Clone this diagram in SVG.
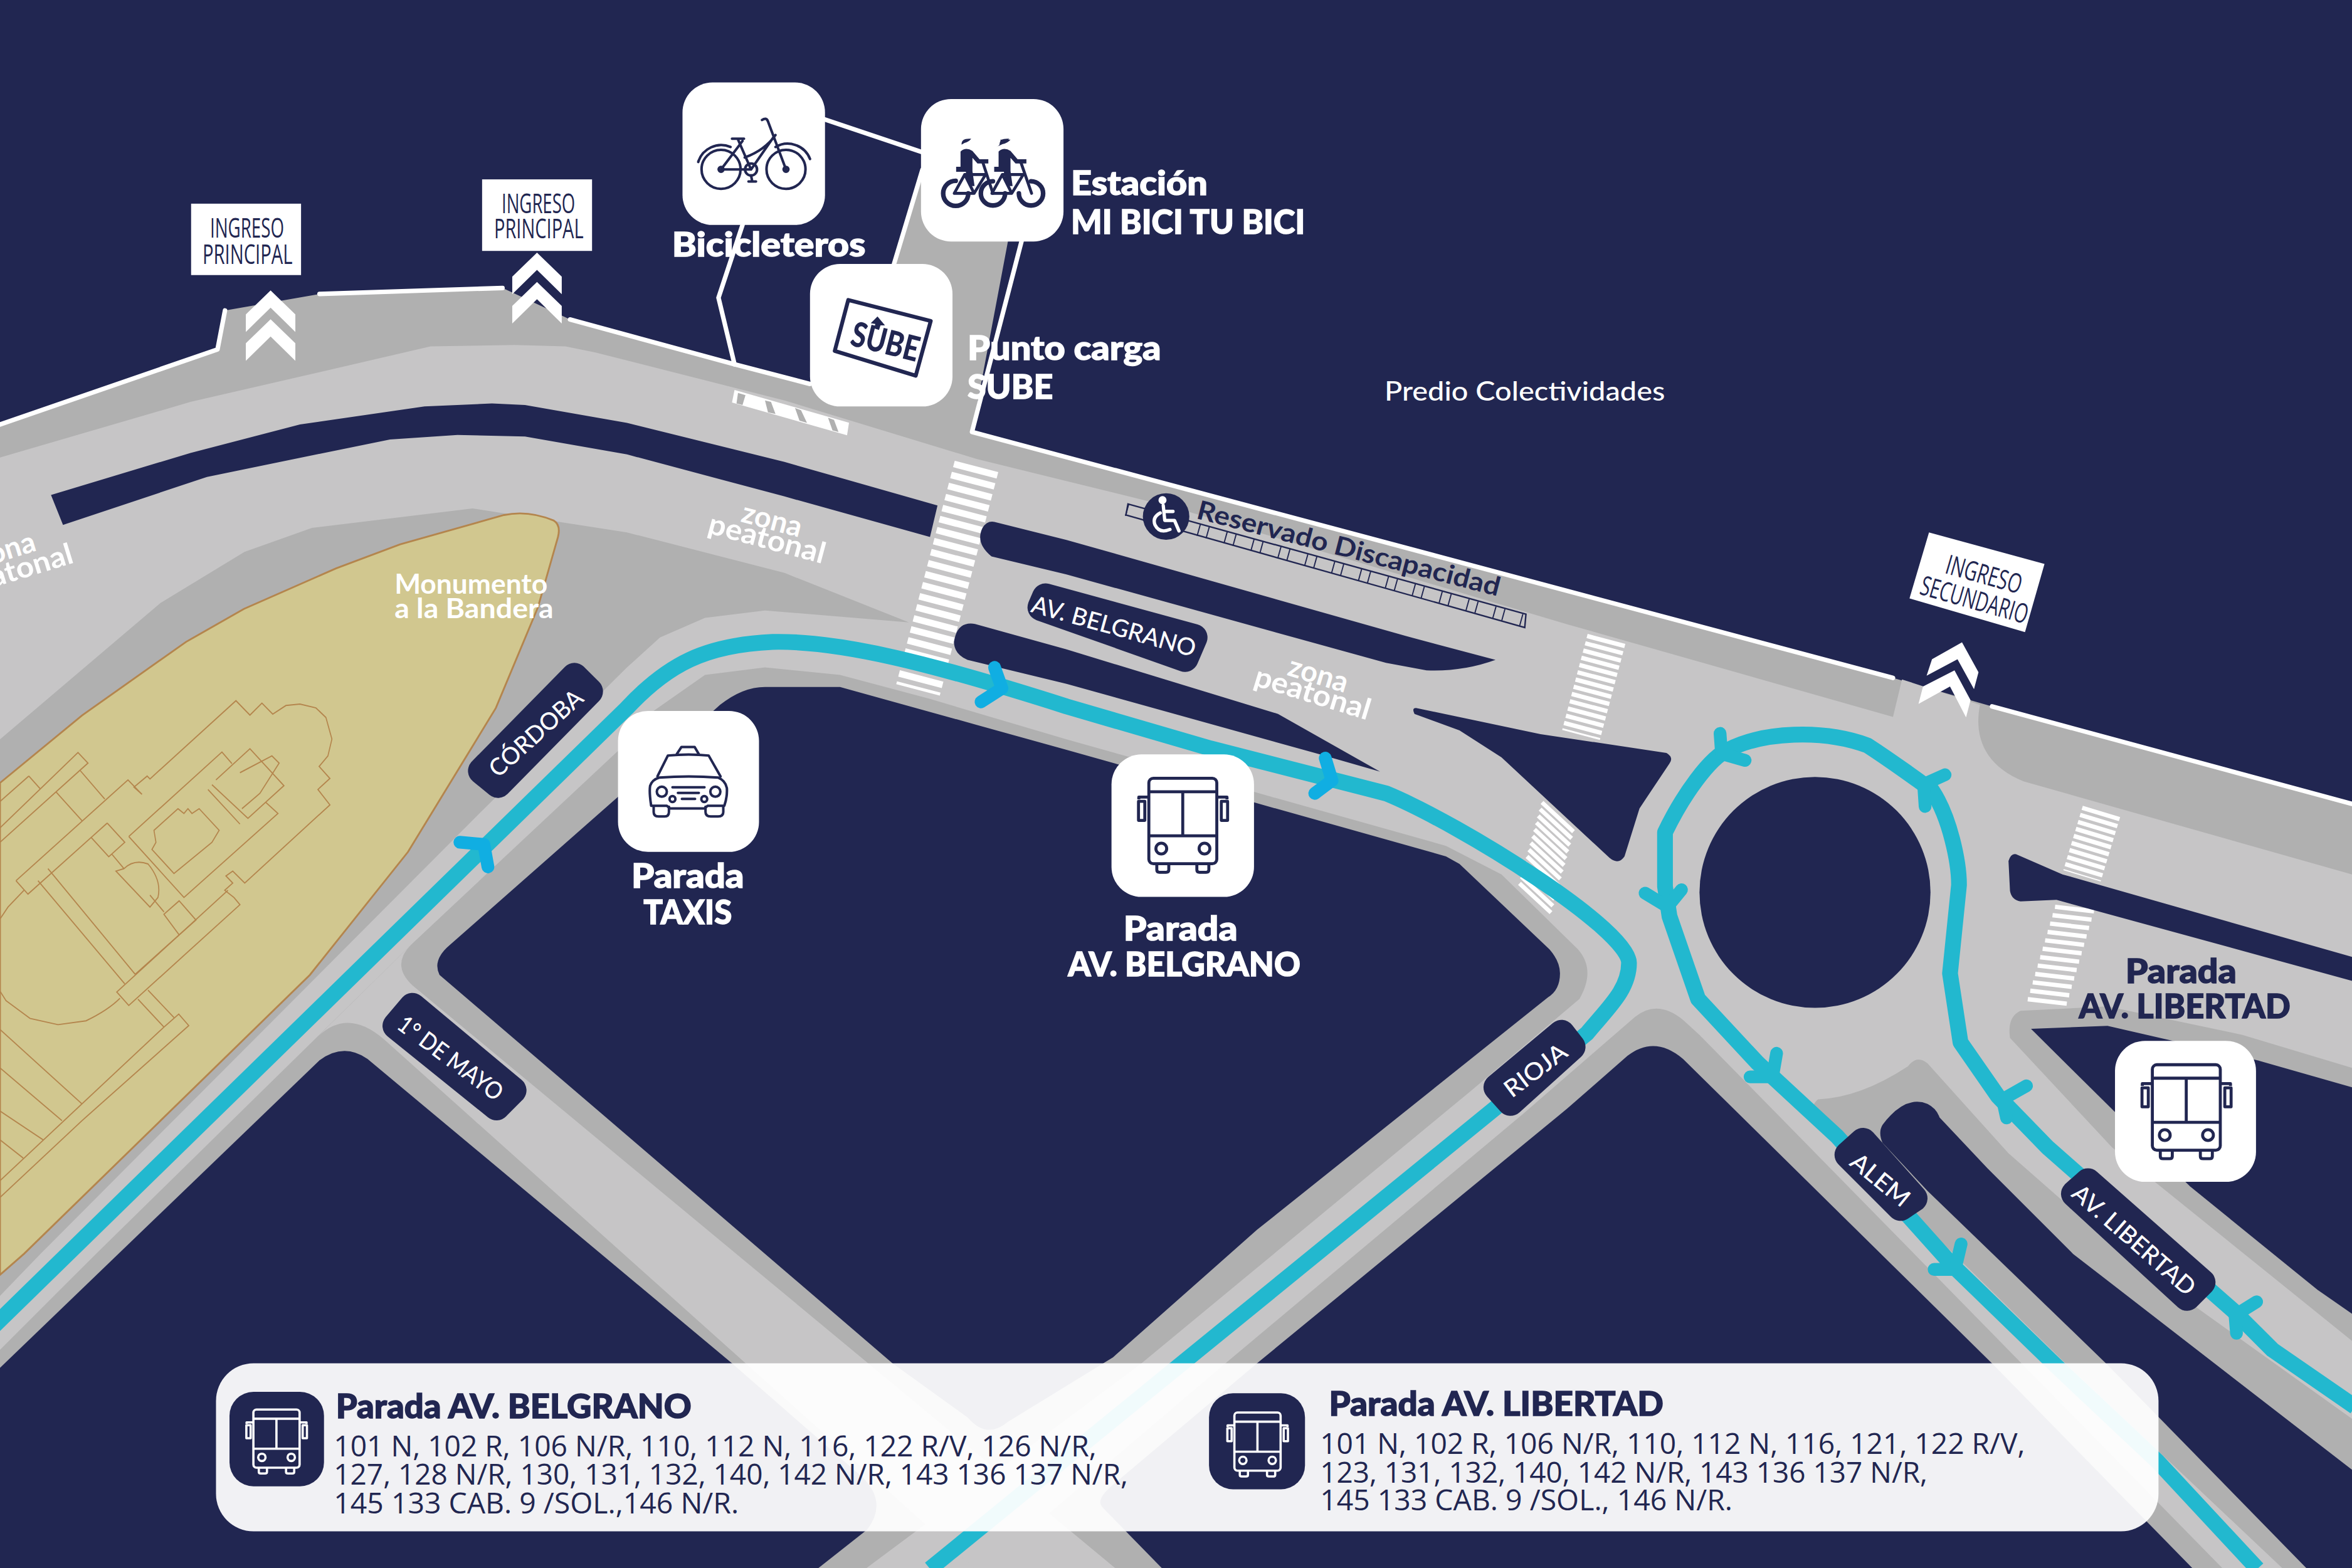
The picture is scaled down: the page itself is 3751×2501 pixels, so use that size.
<svg xmlns="http://www.w3.org/2000/svg" xmlns:xlink="http://www.w3.org/1999/xlink" width="3751" height="2501" viewBox="0 0 3751 2501">
<style>
.nv{fill:#212651}.dk{fill:#b0b0b0}.lt{fill:#c6c5c6}
.box{fill:#fff}
.wl{fill:none;stroke:#fff;stroke-width:3;stroke-linecap:round;stroke-linejoin:round}
.cw{fill:#fff}
.lbl{fill:#212651;stroke:#212651;stroke-width:18;stroke-linejoin:round}
.rt{font-family:"Lato","Open Sans",sans-serif;font-size:16px;font-weight:500;fill:#fff;text-anchor:middle}
.h{font-family:"Lato","Open Sans",sans-serif;font-weight:900;font-size:22px;fill:#fff;stroke:#fff;stroke-width:.6}
.hn{fill:#212651;stroke:#212651}
.p{font-family:"Lato","Open Sans",sans-serif;font-weight:700;font-size:18px;fill:#fff}
.z{font-family:"Lato","Open Sans",sans-serif;font-weight:700;font-size:19.5px;fill:#fff;text-anchor:middle}
.ing{font-family:"Open Sans","Noto Sans",sans-serif;font-size:18px;font-weight:500;fill:#212651}
.row{font-family:"Open Sans","Noto Sans",sans-serif;font-size:19px;font-weight:500;fill:#212651}
.route{fill:none;stroke:#22b8cf;stroke-width:10.5;stroke-linejoin:round}
.arr{fill:none;stroke:#22b8cf;stroke-width:8.5;stroke-linecap:round;stroke-linejoin:round}
.arb{fill:none;stroke:#10aee2;stroke-width:8.5;stroke-linecap:round;stroke-linejoin:round}
.xw{fill:none;stroke:#fff}
.mon{fill:#d1c78f;stroke:#b4854d;stroke-width:1.2}
.bl{fill:none;stroke:#b4854d;stroke-width:2.6}
.ic{fill:none;stroke:#212651;stroke-width:1.7;stroke-linecap:round;stroke-linejoin:round}
.ic2{fill:none;stroke:#212651;stroke-width:12;stroke-linecap:round;stroke-linejoin:round}
</style>
<defs>
<g id="bus" fill="none" stroke-linejoin="round">
<rect x="24.9" y="15.9" width="45.3" height="57" rx="3"/>
<path d="M24.9 24.9H70.2M24.9 54.3H70.2M47.5 24.9V54.3M18.2 30V28.5H24.9M77 30V28.5H70.2"/>
<rect x="18" y="31.3" width="4.2" height="12.7"/><rect x="73.2" y="31.3" width="4.2" height="12.7"/>
<ellipse cx="33.2" cy="62.8" rx="3.6" ry="3.6"/><ellipse cx="62" cy="62.8" rx="3.6" ry="3.6"/>
<path d="M30.2 73V77Q30.2 78.6 32 78.6H36.4Q38.2 78.6 38.2 77V73M56.9 73V77Q56.9 78.6 58.7 78.6H63.1Q64.9 78.6 64.9 77V73"/>
</g>
<g id="rider" fill="#212651" stroke="none">
<path d="M245 185Q270 162 302 182L336 222H378V242H326L302 215V278L312 350H285L270 282H224V258H245Z"/>
<path d="M250 152Q248 120 296 124Q284 140 264 144Z"/>
</g>
<path id="chev" d="M0 0L16.5 16V27.7L0 11.5L-16.5 27.7V16Z"/>
</defs>
<rect width="3751" height="2501" fill="#212651"/>
<g transform="scale(2.39222)">
<g id="roads">
<path class="dk" d="M0 283L145 233L150 207L213 196L335 192L380 213L490 243L540 256L596 176L615 113H681L648 288L1262 452L1328 471L1568 536V1046H0Z"/>
<path class="lt" d="M0 305L127 268L287 231L343 230L377 231L397 235L523 267L651 306L785 339L1044 416L1262 478L1268 453L1320 470C1316 490 1322 510 1349 521L1568 583V712L1495 690L1405 671L1347 674Q1338 678 1340 692L1408 765L1568 894V946L1420 840L1339 769L1285 709Q1278 703 1272 711Q1240 732 1212 733Q1206 738 1210 745L1219 753L1278 812L1378 910L1522 1046H1482L1133 690L1122 680Q1105 666 1090 678L1015 743L817 909L656 1046H577L761 909L981 727L1053 666C1062 650 1058 640 1052 633L1001 583L964 564L836 528L711 493L620 466L560 450L510 445L470 450L430 478L418 495L275 629L64 836L0 900V864L27 836L320 542L418 445L440 425L470 412L510 407L606 415L523 382L418 355L315 339L208 352L163 368L107 402L0 493Z"/>
<path class="lt" d="M275 629Q260 643 275 657L744 1046H650L256 693Q232 672 212 691Z"/>
</g>
<g id="crossings">
<path class="xw" stroke-width="30" stroke-dasharray="4.4 3.2" d="M651 311L612 460"/>
<path class="xw" stroke-width="26" stroke-dasharray="2.9 2.1" d="M1071 426L1054 490"/>
<path class="xw" stroke-width="2.8" d="M1028 535l21 19.5m-22.25 -15l21 19.5m-22.25 -15l21 19.5m-22.25 -15l21 19.5m-22.25 -15l21 19.5m-22.25 -15l21 19.5m-22.25 -15l21 19.5m-22.25 -15l21 19.5m-22.25 -15l21 19.5m-22.25 -15l21 19.5m-22.25 -15l21 19.5m-22.25 -15l21 19.5m-22.25 -15l21 19.5"/>
<path class="xw" stroke-width="26" stroke-dasharray="2.9 2" d="M1401 541L1388 584"/>
<path class="xw" stroke-width="2.9" d="M1370 604.6l26 3m-27.65 2.6l26 3m-27.65 2.6l26 3m-27.65 2.6l26 3m-27.65 2.6l26 3m-27.65 2.6l26 3m-27.65 2.6l26 3m-27.65 2.6l26 3m-27.65 2.6l26 3m-27.65 2.6l26 3m-27.65 2.6l26 3m-27.65 2.6l26 3"/>
</g>
<g id="islands">
<path class="nv" d="M34 330L127 302L200 283L283 271L328 269L350 270L418 282L523 308L625 337L620 358L523 331L418 303L350 291L305 290L260 293L138 318L42 350Z"/>
<path class="nv" d="M663 348L711 360L937 424L997 440Q975 448 951 447L924 442L711 383L661 371Q650 362 655 352Q658 347 663 348Z"/>
<path class="nv" d="M650 416L711 433L852 476L920 514.5L880 503L711 456L645 440Q636 436 636 428Q638 414 650 416Z"/>
<path class="nv" d="M944 472L1027 489.5L1111 502Q1116 505 1113 509L1093 539L1083 571Q1079 577 1073 572L1001 505L973 487L943 476Q941 472 944 472Z"/>
<path class="nv" d="M1345 570L1375 583L1568 638V654L1371 600L1347 601Q1341 600 1340 594L1339 574Q1341 568 1345 570Z"/>
<circle class="nv" cx="1210" cy="595" r="77"/>
<path id="block-left" class="nv" d="M0 912L213 707Q229 695 245 706L488 909L575 985Q592 1002 578 1020L545 1046H0Z"/>
<path id="block-center" class="nv" d="M293 650Q288 640 300 630L418 526L480 470Q495 458 510 458H560L650 483L711 500L836 535L964 571L973 576L1033 633Q1040 641 1040 649Q1040 660 1032 665L838 820L742 905L672 948Q658 960 645 945L595 909L418 757Z"/>
<path id="block-right" class="nv" d="M1085 704Q1103 690 1122 706L1329 910L1462 1046H775L735 1005Q730 1000 742 990L838 909L1045 739Z"/>
<path id="block-isle" class="nv" d="M1255 750Q1270 730 1285 736Q1291 739 1293 745L1325 779L1382 836L1568 980V1046H1538L1405 910L1285 794L1255 762Q1252 755 1255 750Z"/>
<path id="block-wedge" class="nv" d="M1354 686L1405 684L1505 707L1568 725V876L1545 860L1460 791Z"/>
</g>
<g id="monument">
<path class="mon" d="M0 522L54.7 477L124 428L162.6 406L224 379L266.6 363L336 343.4Q352 340 369 347Q374 350 372 358L358.6 405L330.6 472L272 568L206.6 650L16 836L0 850Z"/>
<g transform="translate(0,334.4) scale(.2666,.32)" class="bl">
<path d="M0 680L195 523L220 545L0 710M72 572L100 598M0 625L72 572M140 605L205 665M200 560L262 620M40 790L320 580L355 610L335 595L368 572L375 578L590 415L625 445L655 420L682 443L715 425L750 422L790 430L815 450L830 495L820 530L798 552L825 577L795 600L825 632L612 795L582 770L565 780L582 795L562 810L585 825L600 840L322 1050L292 1022L570 810"/>
<path d="M322 698L555 522L580 546M322 698L460 825L695 650L665 627M540 580L625 515L710 592L620 660L530 590M600 565L680 530L698 545L650 608L605 640M520 600L600 672M445 640L460 650L470 640L480 650L498 640L548 685L530 710L435 775L380 725L390 710L385 685Z"/>
<path d="M40 790L70 818L228 700M268 670L312 710L272 740L228 700L268 670M290 770L375 845L395 825Q405 790 370 755Q335 745 310 765ZM410 860L448 832L490 872L448 903ZM280 735L310 765M375 820L410 855M95 790L312 1005M120 765L338 985M448 903L338 985"/>
<path d="M370 1018L435 1075M345 1037L410 1095L447 1068L472 1092L205 1290L0 1450M410 1095L0 1415M300 1035Q270 1060 215 1082L145 1090L75 1077L15 1040L0 1020M60 810L20 845L0 870M0 1100L205 1255M0 1180L155 1290M0 1270L108 1330M0 1330L58 1368"/>
</g>
<text class="p" x="263" y="396" textLength="102" lengthAdjust="spacingAndGlyphs">Monumento</text>
<text class="p" x="263" y="412" textLength="106" lengthAdjust="spacingAndGlyphs">a la Bandera</text>
</g>
<g id="reservado">
<path fill="none" stroke="#212651" stroke-width="1" d="M752 336L1017.3 409.5L1016.5 418.4L750.6 343.4Z"/>
<path fill="none" stroke="#212651" stroke-width="8" stroke-dasharray="0.8 11.6 0.8 5.4" d="M751 340L1017 414"/>
<text transform="translate(797,345.5) rotate(14.5)" style="font-family:Lato,'Open Sans',sans-serif;font-weight:700;font-size:17.5px;fill:#212651" textLength="208" lengthAdjust="spacingAndGlyphs">Reservado Discapacidad</text>
<circle class="nv" cx="777.4" cy="344.4" r="15.5"/>
<g fill="none" stroke="#fff" stroke-width="2.2" stroke-linecap="round" stroke-linejoin="round">
<circle cx="775" cy="333.5" r="1.6" fill="#fff"/>
<path d="M775.5 337L776.5 347H783L786 354M776 341H782M773.5 342Q768 345 770 350Q773 356 780 353"/>
</g>
</g>
<g id="connectors">
<path class="route" d="M-5 885L418 472C445 443 470 430 515 428C560 427 620 442 711 471L807 499L924 529C975 550 1086 620 1086 642C1086 660 1072 672 1058 689L788 909L620 1046"/>
<path class="route" d="M1505 1046L1438 974L1370 910L1302 844L1225 758L1172 709L1132 666L1113 611L1110 591L1110 555C1122 530 1140 505 1152 500C1175 488 1215 486 1245 497C1265 510 1285 525 1288 527C1300 545 1306 575 1306 590L1300 649L1307 695L1332 731L1365 765L1489 874L1515 900L1570 938"/>
<path class="arb" d="M306.6 561.6L322.6 563L325.3 578"/>
<path class="arb" d="M663 445L668 459L654 468"/>
<path class="arb" d="M883.5 505.5L888 520.4L876.5 529"/>
<path class="arr" d="M1146.7 489L1147.7 502.6L1163.4 507"/>
<path class="arr" d="M1296.7 516.6L1282.4 523L1283.4 537.7"/>
<path class="arr" d="M1096.7 595.5L1111.7 604.6L1121 593.2"/>
<path class="arr" d="M1184.4 702.3L1181.7 718L1166.7 718"/>
<path class="arr" d="M1307.4 829.4L1303.4 846.4L1289.4 846.4"/>
<path class="arr" d="M1351 724L1335 733L1337.7 745.4"/>
<path class="arr" d="M1504.4 868L1490 877L1491 889"/>
</g>
<g id="lines">
<path class="wl" d="M0 283L145 233L150 207"/>
<path class="wl" d="M213 196L335 192"/>
<path class="wl" d="M380 213L490 243L540 256"/>
<path class="wl" d="M479 198.5L495 150M479 198.5L489.7 243"/>
<path class="wl" d="M549.7 79.6L614.7 101.4"/>
<path class="wl" d="M596 176L615 113"/>
<path class="wl" d="M681 161L648 288L1262 452"/>
<path class="wl" d="M1328 471L1568 536"/>
</g>
<g id="barrier">
<path fill="#fff" d="M489.7 260L566 281.8L564.7 290.2L488 268.4Z"/>
<path class="dk" d="M492 262L497 263.5L495 270L491 269ZM510 267L514 268L517 276L512 275ZM530 272L534 273.5L538 282L533 280.5ZM552 278.5L556 280L559 288L555 287Z"/>
</g>
<g id="road-labels">
<g id="lb-cordoba"><path class="lbl" d="M383 451L393 461L332 523L321 514Z"/><text class="rt" transform="translate(361,493) rotate(-42)" textLength="78" lengthAdjust="spacingAndGlyphs">CÓRDOBA</text></g>
<g id="lb-mayo"><path class="lbl" d="M275 671L342 727L331 738L264 684Z"/><text class="rt" transform="translate(297,710) rotate(36.6)" textLength="83" lengthAdjust="spacingAndGlyphs">1° DE MAYO</text></g>
<g id="lb-belgrano"><path class="lbl" d="M697 398L796 425L790 439L694 405Z"/><text class="rt" transform="translate(741,423) rotate(15.5)" textLength="113" lengthAdjust="spacingAndGlyphs">AV. BELGRANO</text></g>
<g id="lb-rioja"><path class="lbl" d="M1041 689L1048 698L1007 735L998 725Z"/><text class="rt" transform="translate(1027,718) rotate(-37)" textLength="48" lengthAdjust="spacingAndGlyphs">RIOJA</text></g>
<g id="lb-alem"><path class="lbl" d="M1242 761L1276 799L1267 805L1232 770Z"/><text class="rt" transform="translate(1250,791) rotate(39.5)" textLength="46" lengthAdjust="spacingAndGlyphs">ALEM</text></g>
<g id="lb-libertad"><path class="lbl" d="M1392 788L1468 855L1458 865L1383 796Z"/><text class="rt" transform="translate(1419,831) rotate(41)" textLength="103" lengthAdjust="spacingAndGlyphs">AV. LIBERTAD</text></g>
</g>
<g id="zonas">
<g transform="translate(513,353) rotate(15)"><text class="z" x="0" y="0">zona</text><text class="z" x="0" y="13" textLength="80" lengthAdjust="spacingAndGlyphs">peatonal</text></g>
<g transform="translate(877,456) rotate(17)"><text class="z" x="0" y="0">zona</text><text class="z" x="0" y="13" textLength="80" lengthAdjust="spacingAndGlyphs">peatonal</text></g>
<text class="z" transform="translate(25,367) rotate(-17)" style="text-anchor:end">zona</text>
<text class="z" transform="translate(50,375) rotate(-17)" style="text-anchor:end" textLength="80" lengthAdjust="spacingAndGlyphs">peatonal</text>
</g>
<g id="ingreso-1">
<rect class="box" x="127.4" y="135.8" width="73.3" height="47.6"/>
<text class="ing" x="140" y="158.5" textLength="49.4" lengthAdjust="spacingAndGlyphs">INGRESO</text>
<text class="ing" x="135" y="175.8" textLength="60" lengthAdjust="spacingAndGlyphs">PRINCIPAL</text>
<use xlink:href="#chev" href="#chev" class="cw" x="180.4" y="193.6"/><use xlink:href="#chev" href="#chev" class="cw" x="180.4" y="212.9"/>
</g>
<g id="ingreso-2">
<rect class="box" x="321.4" y="119.6" width="73.3" height="47.7"/>
<text class="ing" x="334.4" y="142" textLength="49" lengthAdjust="spacingAndGlyphs">INGRESO</text>
<text class="ing" x="329.4" y="159" textLength="59.6" lengthAdjust="spacingAndGlyphs">PRINCIPAL</text>
<use xlink:href="#chev" href="#chev" class="cw" x="358" y="168.5"/><use xlink:href="#chev" href="#chev" class="cw" x="358" y="188"/>
</g>
<g id="ingreso-3">
<path class="box" d="M1286 355L1363 376L1350 421.5L1273 399Z"/>
<text class="ing" transform="matrix(.96 .27 -.28 .96 1296 382)" textLength="52" lengthAdjust="spacingAndGlyphs">INGRESO</text>
<text class="ing" transform="matrix(.96 .27 -.28 .96 1279 396)" textLength="74" lengthAdjust="spacingAndGlyphs">SECUNDARIO</text>
<path class="cw" d="M1308 428.3L1319 448.2L1316 459.5L1305 439.6L1284.4 450.5L1288 439.6Z"/>
<path class="cw" d="M1303 447L1313.7 466.8L1310.7 478.3L1300 457.7L1279 469.3L1282 457.7Z"/>
</g>
<g id="bicicleteros">
<rect class="box" x="455" y="55" width="95" height="95" rx="20"/>
<g class="ic">
<circle cx="480.7" cy="112.9" r="13"/><circle cx="524" cy="112.9" r="13"/><circle cx="480.7" cy="112.9" r="1.6"/><circle cx="524" cy="112.9" r="1.6"/>
<path d="M465.5 108A16 16 0 0 1 487 98M517 98A16 16 0 0 1 540 106"/>
<path d="M480.7 113L495 94M480.7 113H500.7L492 93M488 92.5H496M500.7 113L516 91M496.5 105Q510 100 517 90M508 80Q511 78 512 81L524 113M500.7 117L501.5 121M499 121H504"/>
<circle cx="500.7" cy="113" r="4"/>
</g>
<text class="h" x="448" y="171" textLength="129" lengthAdjust="spacingAndGlyphs">Bicicleteros</text>
</g>
<g id="mibici">
<rect class="box" x="614" y="66" width="95" height="95" rx="20"/>
<g transform="translate(606.2,75.25) scale(.1394)">
<use xlink:href="#rider" href="#rider"/><use xlink:href="#rider" href="#rider" x="182"/>
<path fill="#212651" d="M415 164Q440 155 436 128L484 128Q470 145 445 150Z"/>
<g fill="none" stroke="#212651" stroke-width="22" stroke-linecap="round">
<path d="M222 325A60 60 0 1 0 282 385"/>
<path d="M400 327A58 58 0 1 0 458 385"/>
<path d="M582 327A58 58 0 1 1 524 385"/>
</g>
<g fill="none" stroke="#212651" stroke-width="14" stroke-linecap="round" stroke-linejoin="round">
<path d="M215 385L265 295H365M215 385H310L365 295M265 295L310 385M350 232L400 385"/>
<path d="M395 385L445 295H545M395 385H490L545 295M445 295L490 385M532 232L585 385"/>
</g>
</g>
<text class="h" x="714" y="130" textLength="91" lengthAdjust="spacingAndGlyphs">Estación</text>
<text class="h" x="714" y="156" textLength="156" lengthAdjust="spacingAndGlyphs">MI BICI TU BICI</text>
</g>
<g id="sube">
<rect class="box" x="540" y="176" width="95" height="95" rx="20"/>
<path fill="none" stroke="#212651" stroke-width="2.6" stroke-linejoin="round" d="M565.5 200L620.5 214L610.5 250.5L556.5 234Z"/>
<text transform="matrix(.97 .245 -.247 .97 566 230)" style="font-family:Lato,'Open Sans',sans-serif;font-weight:900;font-size:23px;fill:#212651" textLength="46" lengthAdjust="spacingAndGlyphs">SUBE</text>
<path fill="#212651" d="M585 211L590 217L587 217L586 220L583 219L583.5 216L580.5 215.5Z"/>
<text class="h" x="645" y="240" textLength="129" lengthAdjust="spacingAndGlyphs">Punto carga</text>
<text class="h" x="645" y="266" textLength="57" lengthAdjust="spacingAndGlyphs">SUBE</text>
</g>
<g id="predio"><text class="p" x="923" y="267" textLength="187" lengthAdjust="spacingAndGlyphs" style="font-weight:500">Predio Colectividades</text></g>
<g id="taxis">
<rect class="box" x="412" y="474" width="94" height="94" rx="20"/>
<g transform="translate(411.8,472.4) scale(.1394)" class="ic2">
<path d="M280 222L305 184H368L390 222M190 325L240 225Q340 215 435 225L492 325"/>
<path d="M160 465Q150 400 155 370Q165 340 200 330Q340 320 480 330Q515 345 522 380Q525 420 510 465H430L415 478H250L235 465Z"/>
<circle cx="211" cy="398" r="24"/><circle cx="467" cy="398" r="24"/><circle cx="262" cy="433" r="14"/><circle cx="414" cy="433" r="14"/>
<path d="M262 377H415M288 404H388M307 432H370"/>
<path d="M172 470V495Q172 516 195 516H225Q245 516 245 495V470M420 470V495Q420 516 445 516H480Q505 516 505 495V470"/>
</g>
<text class="h" x="421" y="592" textLength="75" lengthAdjust="spacingAndGlyphs">Parada</text>
<text class="h" x="429" y="616" textLength="59" lengthAdjust="spacingAndGlyphs">TAXIS</text>
</g>
<g id="parada-belgrano">
<rect class="box" x="741" y="503" width="95" height="95" rx="20"/>
<use xlink:href="#bus" href="#bus" x="741" y="503" stroke="#212651" stroke-width="2"/>
<text class="h" x="749" y="627" textLength="76" lengthAdjust="spacingAndGlyphs">Parada</text>
<text class="h" x="712" y="651" textLength="155" lengthAdjust="spacingAndGlyphs">AV. BELGRANO</text>
</g>
<g id="parada-libertad">
<rect class="box" x="1410" y="694" width="94" height="94" rx="20"/>
<use xlink:href="#bus" href="#bus" x="1410" y="694" stroke="#212651" stroke-width="2"/>
<text class="h hn" x="1417" y="655.5" textLength="74" lengthAdjust="spacingAndGlyphs">Parada</text>
<text class="h hn" x="1386" y="679" textLength="141" lengthAdjust="spacingAndGlyphs">AV. LIBERTAD</text>
</g>
<g id="panel">
<rect x="144" y="909" width="1295" height="112" rx="25" fill="#fff" fill-opacity=".937"/>
<rect class="nv" x="153" y="928" width="63" height="63" rx="16"/>
<rect class="nv" x="806" y="929" width="64" height="64" rx="16"/>
<g transform="translate(152,929) scale(.68)"><use xlink:href="#bus" href="#bus" stroke="#fff" stroke-width="2.2"/></g>
<g transform="translate(806,931) scale(.68)"><use xlink:href="#bus" href="#bus" stroke="#fff" stroke-width="2.2"/></g>
<text class="h hn" x="224" y="945.5" textLength="237" lengthAdjust="spacingAndGlyphs">Parada AV. BELGRANO</text>
<text class="row" x="222.5" y="971" textLength="508.5" lengthAdjust="spacingAndGlyphs">101 N, 102 R, 106 N/R, 110, 112 N, 116, 122 R/V, 126 N/R,</text>
<text class="row" x="222.5" y="990" textLength="529.5" lengthAdjust="spacingAndGlyphs">127, 128 N/R, 130, 131, 132, 140, 142 N/R, 143 136 137 N/R,</text>
<text class="row" x="222.5" y="1009" textLength="270" lengthAdjust="spacingAndGlyphs">145 133 CAB. 9 /SOL.,146 N/R.</text>
<text class="h hn" x="886" y="944" textLength="223" lengthAdjust="spacingAndGlyphs">Parada AV. LIBERTAD</text>
<text class="row" x="880" y="969.5" textLength="470" lengthAdjust="spacingAndGlyphs">101 N, 102 R, 106 N/R, 110, 112 N, 116, 121, 122 R/V,</text>
<text class="row" x="880" y="988.5" textLength="405" lengthAdjust="spacingAndGlyphs">123, 131, 132, 140, 142 N/R, 143 136 137 N/R,</text>
<text class="row" x="880" y="1007" textLength="275" lengthAdjust="spacingAndGlyphs">145 133 CAB. 9 /SOL., 146 N/R.</text>
</g>
</g>
</svg>
